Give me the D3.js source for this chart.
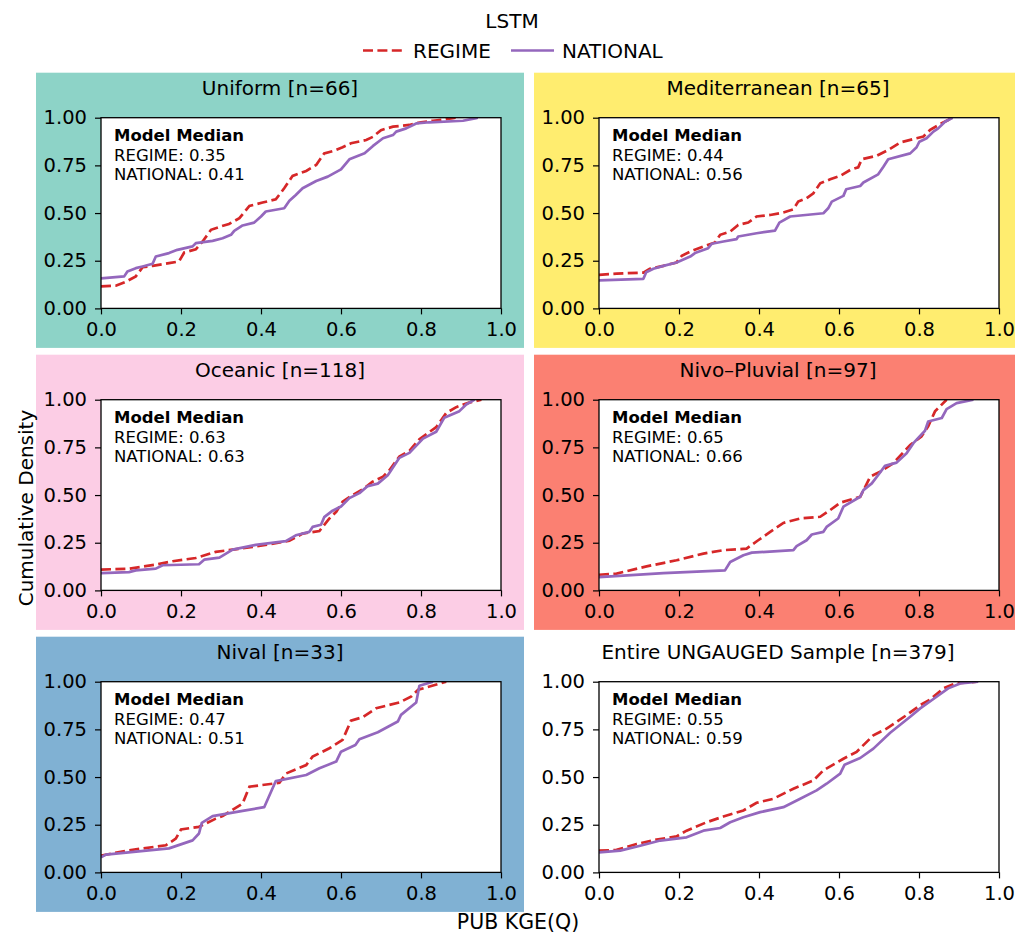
<!DOCTYPE html>
<html>
<head>
<meta charset="utf-8">
<script src="https://cdn.jsdelivr.net/npm/d3@7"></script>
<style>
  html, body { margin: 0; padding: 0; background: #ffffff; }
  svg { display: block; }
  text { font-family: "DejaVu Sans", sans-serif; fill: #000; }
</style>
</head>
<body>
<div id="chart"></div>
<script>
// Flow-regime groups and sample sizes
const regimeNames = ["Uniform", "Mediterranean", "Oceanic", "Nivo–Pluvial", "Nival", "Entire UNGAUGED Sample"];
const regimeCounts = [66, 65, 118, 97, 33, 379];
const regimeFill = ["#8dd3c7", "#ffed6f", "#fccde5", "#fb8072", "#80b1d3", "#ffffff"];

// Median PUB KGE(Q) for each model variant
const medianRegime = [0.35, 0.44, 0.63, 0.65, 0.47, 0.55];
const medianNational = [0.41, 0.56, 0.63, 0.66, 0.51, 0.59];

// Tick values
const xTicks = [0.0, 0.2, 0.4, 0.6, 0.8, 1.0];
const yTicks = [0.00, 0.25, 0.50, 0.75, 1.00];

// Empirical CDFs, [KGE, cumulative density]
const uniformRegime = [[0,0.115],[0.037,0.119],[0.062,0.14],[0.087,0.168],[0.104,0.216],[0.129,0.223],[0.17,0.237],[0.195,0.246],[0.208,0.293],[0.237,0.31],[0.254,0.351],[0.275,0.412],[0.30,0.43],[0.32,0.443],[0.346,0.473],[0.371,0.537],[0.404,0.555],[0.437,0.572],[0.458,0.63],[0.479,0.695],[0.513,0.721],[0.538,0.752],[0.558,0.813],[0.583,0.827],[0.604,0.845],[0.625,0.866],[0.663,0.883],[0.68,0.9],[0.70,0.935],[0.73,0.953],[0.771,0.962],[0.80,0.976],[0.83,0.984],[0.855,0.99],[0.88,0.998],[0.888,1.0]];
const uniformNational = [[0,0.157],[0.058,0.168],[0.066,0.194],[0.087,0.211],[0.104,0.22],[0.129,0.234],[0.137,0.272],[0.17,0.29],[0.191,0.307],[0.229,0.325],[0.237,0.342],[0.279,0.354],[0.304,0.368],[0.325,0.386],[0.333,0.407],[0.354,0.435],[0.383,0.45],[0.40,0.482],[0.412,0.508],[0.458,0.525],[0.471,0.564],[0.487,0.595],[0.504,0.63],[0.538,0.668],[0.567,0.691],[0.60,0.729],[0.621,0.782],[0.659,0.813],[0.68,0.852],[0.705,0.892],[0.73,0.909],[0.738,0.927],[0.763,0.944],[0.788,0.97],[0.821,0.976],[0.905,0.984],[0.938,0.998],[0.942,1.0]];

const mediterraneanRegime = [[0,0.176],[0.044,0.182],[0.111,0.188],[0.127,0.208],[0.161,0.223],[0.194,0.241],[0.207,0.276],[0.228,0.298],[0.261,0.325],[0.29,0.346],[0.303,0.386],[0.328,0.403],[0.348,0.438],[0.373,0.45],[0.394,0.482],[0.428,0.49],[0.461,0.503],[0.486,0.52],[0.498,0.56],[0.519,0.578],[0.536,0.604],[0.553,0.656],[0.578,0.677],[0.603,0.695],[0.628,0.726],[0.648,0.74],[0.657,0.782],[0.694,0.8],[0.723,0.831],[0.753,0.87],[0.794,0.892],[0.811,0.901],[0.828,0.936],[0.853,0.967],[0.873,0.988],[0.882,1.0]];
const mediterraneanNational = [[0,0.147],[0.111,0.155],[0.118,0.19],[0.136,0.208],[0.161,0.223],[0.194,0.241],[0.228,0.272],[0.24,0.29],[0.273,0.316],[0.282,0.339],[0.311,0.351],[0.344,0.363],[0.348,0.377],[0.394,0.394],[0.44,0.408],[0.451,0.45],[0.478,0.482],[0.561,0.499],[0.573,0.525],[0.582,0.56],[0.611,0.59],[0.618,0.625],[0.653,0.642],[0.661,0.66],[0.698,0.703],[0.711,0.743],[0.723,0.782],[0.778,0.813],[0.794,0.845],[0.801,0.874],[0.819,0.892],[0.836,0.927],[0.848,0.944],[0.865,0.979],[0.884,1.0]];

const oceanicRegime = [[0,0.109],[0.07,0.114],[0.137,0.135],[0.179,0.153],[0.237,0.17],[0.287,0.202],[0.329,0.214],[0.379,0.228],[0.421,0.242],[0.471,0.26],[0.504,0.298],[0.546,0.311],[0.554,0.333],[0.571,0.377],[0.588,0.412],[0.604,0.465],[0.629,0.5],[0.654,0.53],[0.679,0.57],[0.705,0.596],[0.721,0.63],[0.746,0.702],[0.771,0.732],[0.796,0.793],[0.838,0.856],[0.863,0.93],[0.888,0.961],[0.922,0.986],[0.951,1.0]];
const oceanicNational = [[0,0.091],[0.07,0.096],[0.087,0.105],[0.137,0.114],[0.154,0.132],[0.245,0.137],[0.258,0.161],[0.296,0.172],[0.329,0.214],[0.387,0.239],[0.462,0.258],[0.487,0.289],[0.521,0.307],[0.529,0.333],[0.55,0.344],[0.558,0.384],[0.579,0.418],[0.60,0.44],[0.621,0.484],[0.646,0.51],[0.667,0.547],[0.692,0.56],[0.717,0.604],[0.746,0.695],[0.771,0.721],[0.805,0.796],[0.838,0.832],[0.858,0.905],[0.896,0.94],[0.913,0.975],[0.934,1.0]];

const nivoPluvialRegime = [[0,0.082],[0.044,0.088],[0.119,0.126],[0.194,0.158],[0.261,0.193],[0.311,0.211],[0.369,0.219],[0.398,0.263],[0.428,0.307],[0.461,0.354],[0.503,0.377],[0.553,0.386],[0.578,0.421],[0.603,0.46],[0.653,0.491],[0.678,0.596],[0.703,0.623],[0.736,0.667],[0.778,0.763],[0.806,0.807],[0.823,0.86],[0.84,0.939],[0.869,1.0]];
const nivoPluvialNational = [[0,0.07],[0.161,0.091],[0.315,0.105],[0.328,0.149],[0.361,0.184],[0.382,0.198],[0.486,0.211],[0.494,0.232],[0.519,0.263],[0.532,0.293],[0.561,0.307],[0.569,0.333],[0.598,0.377],[0.611,0.439],[0.653,0.491],[0.661,0.526],[0.682,0.561],[0.698,0.605],[0.715,0.653],[0.744,0.67],[0.769,0.719],[0.786,0.772],[0.815,0.837],[0.823,0.886],[0.857,0.904],[0.869,0.951],[0.894,0.982],[0.936,1.0]];

const nivalRegime = [[0,0.088],[0.07,0.116],[0.162,0.142],[0.187,0.177],[0.2,0.225],[0.245,0.239],[0.287,0.282],[0.304,0.295],[0.354,0.361],[0.371,0.449],[0.446,0.47],[0.463,0.519],[0.513,0.563],[0.529,0.607],[0.571,0.651],[0.604,0.695],[0.625,0.796],[0.654,0.814],[0.688,0.861],[0.746,0.891],[0.776,0.923],[0.793,0.958],[0.863,1.0]];
const nivalNational = [[0,0.079],[0.012,0.093],[0.17,0.126],[0.229,0.168],[0.245,0.204],[0.252,0.26],[0.279,0.295],[0.354,0.323],[0.408,0.342],[0.437,0.479],[0.513,0.511],[0.546,0.546],[0.588,0.581],[0.6,0.633],[0.636,0.668],[0.646,0.698],[0.692,0.735],[0.742,0.791],[0.75,0.826],[0.788,0.891],[0.796,0.979],[0.83,1.0]];

const entireRegime = [[0,0.114],[0.044,0.118],[0.094,0.149],[0.144,0.172],[0.194,0.189],[0.219,0.219],[0.269,0.263],[0.311,0.293],[0.361,0.325],[0.394,0.365],[0.436,0.386],[0.486,0.439],[0.536,0.482],[0.561,0.535],[0.611,0.596],[0.644,0.632],[0.686,0.719],[0.719,0.754],[0.769,0.825],[0.803,0.877],[0.828,0.907],[0.861,0.965],[0.89,0.991],[0.944,1.0]];
const entireNational = [[0,0.105],[0.053,0.114],[0.103,0.14],[0.153,0.167],[0.219,0.184],[0.261,0.219],[0.303,0.233],[0.328,0.263],[0.361,0.289],[0.403,0.316],[0.461,0.342],[0.503,0.386],[0.544,0.43],[0.569,0.465],[0.603,0.518],[0.614,0.565],[0.653,0.6],[0.686,0.649],[0.728,0.732],[0.778,0.816],[0.803,0.86],[0.844,0.921],[0.873,0.965],[0.903,0.991],[0.948,1.0]];

const regimeCurves = [uniformRegime, mediterraneanRegime, oceanicRegime, nivoPluvialRegime, nivalRegime, entireRegime];
const nationalCurves = [uniformNational, mediterraneanNational, oceanicNational, nivoPluvialNational, nivalNational, entireNational];

// ---- layout ----
const W = 1016, H = 936;
const colLeft = [101, 599];
const rowTop = [117.7, 399.7, 681.7];
const plotW = 400, plotH = 190.7;
const RED = "#d62728", PURPLE = "#9467bd";
const LW = 2.7, DASH = "10,4.4";

const svg = d3.select("#chart").append("svg")
  .attr("width", W).attr("height", H)
  .attr("viewBox", `0 0 ${W} ${H}`);

svg.append("rect").attr("width", W).attr("height", H).attr("fill", "#ffffff");

const defs = svg.append("defs");

const x = d3.scaleLinear().domain([0, 1]).range([0, plotW]);
const y = d3.scaleLinear().domain([0, 1]).range([plotH, 0]);
const line = d3.line().x(d => x(d[0])).y(d => y(d[1]));

regimeNames.forEach((name, i) => {
  const col = i % 2, row = Math.floor(i / 2);
  const left = colLeft[col], top = rowTop[row];

  // coloured panel behind each regime's axes
  const bx = left - 65, bw = 488;
  const by = top - 45, bh = plotH + 84.5;
  svg.append("rect")
    .attr("x", bx).attr("y", by)
    .attr("width", Math.min(bw, W - 1 - bx)).attr("height", bh)
    .attr("fill", regimeFill[i]);

  svg.append("text")
    .attr("x", bx + bw / 2).attr("y", top - 23)
    .attr("text-anchor", "middle")
    .attr("font-size", 20)
    .text(`${name} [n=${regimeCounts[i]}]`);

  const g = svg.append("g").attr("transform", `translate(${left},${top})`);

  g.append("rect").attr("width", plotW).attr("height", plotH).attr("fill", "#ffffff");

  const clipId = `clip${i}`;
  defs.append("clipPath").attr("id", clipId)
    .append("rect").attr("width", plotW).attr("height", plotH);

  const curves = g.append("g").attr("clip-path", `url(#${clipId})`);
  curves.append("path").datum(regimeCurves[i])
    .attr("d", line).attr("fill", "none")
    .attr("stroke", RED).attr("stroke-width", LW)
    .attr("stroke-dasharray", DASH);
  curves.append("path").datum(nationalCurves[i])
    .attr("d", line).attr("fill", "none")
    .attr("stroke", PURPLE).attr("stroke-width", LW)
    .attr("stroke-linejoin", "round");

  // axes
  const gy = g.append("g")
    .call(d3.axisLeft(y).tickValues(yTicks).tickFormat(d3.format(".2f"))
      .tickSize(6).tickPadding(8).tickSizeOuter(0));
  const gx = g.append("g").attr("transform", `translate(0,${plotH})`)
    .call(d3.axisBottom(x).tickValues(xTicks).tickFormat(d3.format(".1f"))
      .tickSize(6).tickPadding(8).tickSizeOuter(0));
  [gx, gy].forEach(a => {
    a.attr("font-family", "DejaVu Sans, sans-serif").attr("font-size", 19.5);
    a.select(".domain").remove();
    a.selectAll(".tick line").attr("stroke", "#000").attr("stroke-width", 1.2);
    a.selectAll(".tick text").attr("fill", "#000");
  });

  g.append("rect").attr("width", plotW).attr("height", plotH)
    .attr("fill", "none").attr("stroke", "#000").attr("stroke-width", 1.3);

  // median annotation
  const ann = g.append("text").attr("x", 13).attr("font-size", 16.5);
  ann.append("tspan").attr("x", 13).attr("y", 23.3).attr("font-weight", "bold").text("Model Median");
  ann.append("tspan").attr("x", 13).attr("y", 43.3).text(`REGIME: ${medianRegime[i].toFixed(2)}`);
  ann.append("tspan").attr("x", 13).attr("y", 62.6).text(`NATIONAL: ${medianNational[i].toFixed(2)}`);
});

// legend
svg.append("text").attr("x", 512).attr("y", 27.5).attr("text-anchor", "middle")
  .attr("font-size", 20).text("LSTM");
const legend = svg.append("g");
legend.append("line").attr("x1", 363).attr("x2", 402).attr("y1", 50.5).attr("y2", 50.5)
  .attr("stroke", RED).attr("stroke-width", LW).attr("stroke-dasharray", DASH);
legend.append("text").attr("x", 413).attr("y", 57.5).attr("font-size", 20).text("REGIME");
legend.append("line").attr("x1", 511).attr("x2", 554).attr("y1", 50.5).attr("y2", 50.5)
  .attr("stroke", PURPLE).attr("stroke-width", LW);
legend.append("text").attr("x", 562).attr("y", 57.5).attr("font-size", 20).text("NATIONAL");

// shared axis labels
svg.append("text").attr("x", 518).attr("y", 929).attr("text-anchor", "middle")
  .attr("font-size", 20.5).text("PUB KGE(Q)");
svg.append("text").attr("transform", "translate(33,508) rotate(-90)")
  .attr("text-anchor", "middle").attr("font-size", 20).text("Cumulative Density");
</script>
</body>
</html>
